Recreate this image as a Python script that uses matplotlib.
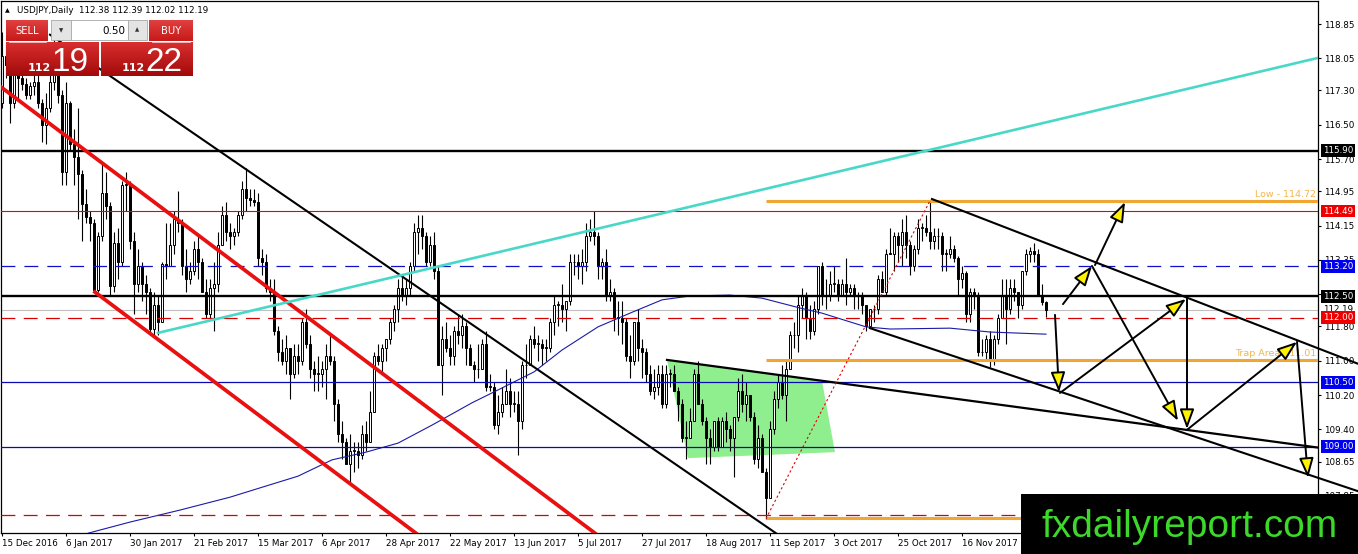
import numpy as np
import matplotlib
matplotlib.use("Agg")
import matplotlib.pyplot as plt
from matplotlib.patches import Rectangle, Polygon
from matplotlib import transforms

plt.rcParams['font.family'] = ['DejaVu Sans']
plt.rcParams['lines.scale_dashes'] = False

# ---------------- data ----------------
symbol_title = "USDJPY,Daily"
title_values = [112.38, 112.39, 112.02, 112.19]
bid_big, ask_big, price_handle = "19", "22", "112"
lot_size = "0.50"

opens = [117.0, 118.1, 117.9, 117.0, 117.9, 117.6, 117.45, 117.2, 117.4, 117.5,
         117.0, 116.5, 116.9, 117.5, 117.7, 117.2, 115.4, 117.0, 116.05, 115.75,
         115.35, 114.65, 114.35, 114.2, 112.65, 113.9, 114.9, 114.6, 112.75, 113.75,
         113.3, 115.1, 115.1, 113.8, 112.8, 113.2, 112.8, 112.6, 111.75, 112.3,
         111.9, 113.25, 113.2, 113.7, 114.3, 114.2, 113.2, 112.9, 113.1, 113.6,
         113.3, 112.6, 112.1, 112.7, 112.8, 113.7, 114.4, 114.0, 113.9, 114.0,
         114.4, 115.0, 114.8, 114.75, 114.7, 113.4, 113.3, 112.7, 112.6, 111.7,
         111.2, 111.0, 111.3, 110.7, 111.1, 111.0, 111.9, 111.4, 110.8, 110.7,
         110.7, 110.8, 111.1, 111.0, 110.0, 109.3, 109.1, 108.6, 108.9, 108.9,
         108.8, 109.3, 109.1, 109.8, 111.1, 111.0, 111.3, 111.5, 111.9, 112.2,
         112.7, 112.5, 112.7, 113.2, 114.0, 114.1, 113.9, 113.3, 113.7, 113.1,
         110.9, 111.5, 111.3, 111.1, 111.7, 111.6, 111.8, 111.3, 110.9, 110.8,
         110.8, 111.4, 110.4, 110.4, 109.5, 109.8, 110.0, 110.3, 110.0, 110.0,
         109.6, 110.9, 110.9, 111.5, 111.4, 111.4, 111.3, 111.3, 111.9, 112.3,
         112.3, 112.2, 112.4, 113.3, 113.3, 113.2, 113.3, 113.9, 114.0, 113.9,
         113.2, 113.3, 112.5, 112.6, 112.0, 112.0, 111.9, 111.1, 111.0, 111.9,
         111.3, 111.2, 110.7, 110.3, 110.4, 110.7, 110.0, 110.7, 110.7, 110.3,
         110.0, 109.2, 109.2, 109.6, 110.7, 110.0, 109.6, 109.2, 109.0, 109.6,
         109.0, 109.6, 109.4, 109.2, 109.7, 110.3, 110.0, 110.2, 109.7, 108.7,
         109.2, 108.4, 107.8, 109.4, 110.1, 110.5, 110.2, 110.8, 111.6, 111.6,
         112.3, 112.5, 112.0, 111.7, 112.2, 113.2, 112.5, 112.5, 112.8, 112.8,
         112.5, 112.8, 112.6, 112.7, 112.5, 112.5, 112.3, 111.8, 112.2, 112.2,
         112.9, 112.6, 113.5, 113.5, 113.9, 113.7, 114.0, 113.7, 113.2, 113.6,
         114.1, 114.1, 114.0, 113.8, 113.9, 113.9, 113.5, 113.5, 113.6, 113.4,
         112.9, 113.05, 112.1, 112.6, 112.5, 111.2, 111.2, 111.5, 111.0, 111.5,
         112.0, 112.5, 112.2, 112.7, 112.6, 112.3, 113.1, 113.5, 113.55, 113.5,
         112.5, 112.38]

highs = [118.66, 118.4, 117.95, 118.25, 118.0, 117.8, 117.6, 117.5, 117.8, 117.8,
         117.1, 117.25, 117.9, 118.6, 118.2, 117.3, 117.5, 117.05, 116.4, 116.9,
         115.45, 115.0, 114.5, 114.3, 114.0, 115.6, 115.4, 114.7, 114.0, 114.1,
         115.2, 115.4, 115.2, 114.0, 113.6, 113.3, 113.0, 112.7, 112.6, 112.5,
         113.3, 114.2, 114.2, 114.5, 114.95, 114.3, 113.6, 113.3, 113.8, 113.9,
         113.4, 112.9, 112.9, 113.3, 114.0, 114.6, 114.7, 114.2, 114.1, 114.5,
         115.2, 115.5, 115.0, 115.0, 114.9, 113.6, 113.5, 112.9, 112.9, 111.8,
         111.5, 111.6, 111.3, 111.4, 111.4, 112.0, 112.2, 111.6, 111.0, 111.1,
         111.0, 111.4, 111.6, 111.1, 110.1, 109.6, 109.2, 109.3, 109.1, 109.1,
         109.5, 109.6, 110.3, 111.2, 111.4, 111.4, 111.5, 112.0, 112.3, 112.9,
         113.0, 112.9, 113.3, 114.2, 114.4, 114.4, 114.0, 113.9, 114.0, 113.2,
         111.8, 111.9, 111.6, 111.8, 112.1, 112.1, 111.9, 111.4, 111.0, 111.4,
         111.5, 111.7, 110.7, 110.5, 110.2, 110.4, 110.8, 110.6, 110.3, 110.3,
         111.0, 111.4, 111.6, 111.8, 111.6, 111.5, 111.5, 112.0, 112.5, 112.4,
         112.8, 112.4, 113.5, 113.5, 113.5, 113.6, 114.2, 114.3, 114.5, 114.0,
         113.4, 113.6, 112.9, 112.7, 112.4, 112.4, 112.0, 111.6, 111.9, 112.2,
         111.5, 111.3, 110.9, 110.8, 110.9, 110.9, 110.9, 110.8, 110.9, 110.4,
         110.1, 109.6, 109.9, 110.8, 111.0, 110.1, 109.7, 109.4, 109.6, 109.7,
         109.7, 109.8, 109.5, 109.7, 110.6, 110.7, 110.5, 110.2, 109.8, 109.5,
         109.3, 108.5, 109.6, 110.3, 110.7, 110.9, 111.0, 111.7, 111.9, 112.5,
         112.7, 112.6, 112.3, 112.4, 113.2, 113.3, 112.9, 113.1, 113.2, 112.9,
         112.9, 113.4, 112.8, 112.8, 112.6, 112.6, 112.3, 112.2, 112.3, 113.0,
         113.1, 113.6, 114.1, 114.0, 114.0, 114.3, 114.4, 113.8, 113.7, 114.3,
         114.2, 114.4, 114.73, 114.1, 114.1, 114.0, 113.6, 113.9, 113.7, 113.45,
         113.2, 113.1, 112.7, 112.7, 112.6, 111.5, 111.6, 111.7, 111.6, 112.1,
         112.9, 112.9, 112.9, 112.9, 112.6, 113.1, 113.6, 113.65, 113.75, 113.6,
         112.8, 112.39]

lows = [116.9, 117.6, 116.55, 116.9, 117.1, 117.3, 117.1, 117.1, 117.2, 116.9,
        116.1, 116.05, 116.8, 117.3, 117.0, 115.1, 115.1, 115.9, 115.1, 114.3,
        113.8, 114.2, 113.8, 112.6, 112.6, 113.8, 114.3, 112.5, 112.6, 112.9,
        113.2, 114.5, 113.6, 112.1, 112.6, 112.4, 112.1, 111.6, 111.6, 111.6,
        111.9, 112.9, 113.2, 113.5, 114.0, 113.0, 112.6, 112.8, 113.0, 112.9,
        112.6, 112.0, 112.0, 111.7, 112.6, 113.7, 113.8, 113.6, 113.7, 113.9,
        114.3, 114.5, 114.6, 114.6, 113.2, 113.0, 112.6, 112.4, 111.6, 111.0,
        110.9, 110.7, 110.1, 110.6, 110.7, 110.9, 111.3, 110.6, 110.3, 110.3,
        110.4, 110.1, 110.9, 109.6, 109.1, 108.7, 108.6, 108.1, 108.4, 108.5,
        108.7, 108.9, 109.1, 109.8, 110.9, 110.7, 111.0, 111.4, 111.7, 111.9,
        112.4, 112.3, 112.5, 113.1, 113.5, 113.6, 113.2, 113.2, 112.9, 110.9,
        110.2, 111.2, 110.9, 110.9, 111.4, 111.3, 110.9, 110.9, 110.5, 110.6,
        110.8, 110.3, 110.3, 109.4, 109.3, 109.7, 110.0, 109.7, 109.8, 108.8,
        109.4, 110.6, 110.9, 111.3, 111.0, 110.9, 111.0, 111.2, 111.6, 111.8,
        111.9, 111.7, 112.3, 113.0, 112.9, 112.8, 113.1, 113.8, 113.7, 112.9,
        112.9, 112.4, 112.4, 111.7, 111.6, 111.4, 111.0, 110.6, 110.9, 111.0,
        110.6, 110.5, 110.2, 110.1, 110.2, 109.9, 109.9, 110.4, 110.3, 109.6,
        109.1, 108.7, 109.2, 109.6, 110.0, 109.5, 108.6, 108.6, 108.9, 108.9,
        109.0, 109.1, 108.9, 108.3, 109.6, 109.8, 109.6, 109.6, 108.6, 108.5,
        108.4, 107.32, 107.8, 109.3, 109.9, 110.1, 109.6, 110.8, 111.3, 111.2,
        112.0, 111.5, 111.5, 111.6, 112.1, 112.3, 112.2, 112.4, 112.6, 112.4,
        112.5, 112.3, 112.5, 112.2, 112.2, 112.1, 111.7, 111.8, 111.9, 112.1,
        112.6, 112.5, 113.5, 113.1, 113.3, 113.2, 113.4, 113.0, 113.1, 113.5,
        113.8, 113.9, 113.6, 113.6, 113.6, 113.1, 113.1, 113.4, 113.3, 112.5,
        112.7, 111.9, 111.9, 112.2, 111.1, 111.1, 111.0, 110.85, 110.9, 111.4,
        112.0, 111.4, 112.1, 112.4, 112.0, 112.2, 113.0, 113.3, 113.3, 112.5,
        112.3, 112.02]

closes = [118.1, 117.9, 117.0, 117.9, 117.6, 117.45, 117.2, 117.4, 117.5, 117.0,
          116.5, 116.9, 117.5, 117.7, 117.2, 115.4, 117.0, 116.05, 115.75, 115.35,
          114.65, 114.35, 114.2, 112.65, 113.9, 114.9, 114.6, 112.75, 113.75, 113.3,
          115.1, 115.1, 113.8, 112.8, 113.2, 112.8, 112.6, 111.75, 112.3, 111.9,
          113.25, 113.2, 113.7, 114.3, 114.2, 113.2, 112.9, 113.1, 113.6, 113.3,
          112.6, 112.1, 112.7, 112.8, 113.7, 114.4, 114.0, 113.9, 114.0, 114.4,
          115.0, 114.8, 114.75, 114.7, 113.4, 113.3, 112.7, 112.6, 111.7, 111.2,
          111.0, 111.3, 110.7, 111.1, 111.0, 111.9, 111.4, 110.8, 110.7, 110.7,
          110.8, 111.1, 111.0, 110.0, 109.3, 109.1, 108.6, 108.9, 108.9, 108.8,
          109.3, 109.1, 109.8, 111.1, 111.0, 111.3, 111.5, 111.9, 112.2, 112.7,
          112.5, 112.7, 113.2, 114.0, 114.1, 113.9, 113.3, 113.7, 113.1, 110.9,
          111.5, 111.3, 111.1, 111.7, 111.6, 111.8, 111.3, 110.9, 110.8, 110.8,
          111.4, 110.4, 110.4, 109.5, 109.8, 110.0, 110.3, 110.0, 110.0, 109.6,
          110.9, 110.9, 111.5, 111.4, 111.4, 111.3, 111.3, 111.9, 112.3, 112.3,
          112.2, 112.4, 113.3, 113.3, 113.2, 113.3, 113.9, 114.0, 113.9, 113.2,
          113.3, 112.5, 112.6, 112.0, 112.0, 111.9, 111.1, 111.0, 111.9, 111.3,
          111.2, 110.7, 110.3, 110.4, 110.7, 110.0, 110.7, 110.7, 110.3, 110.0,
          109.2, 109.2, 109.6, 110.7, 110.0, 109.6, 109.2, 109.0, 109.6, 109.0,
          109.6, 109.4, 109.2, 109.7, 110.3, 110.0, 110.2, 109.7, 108.7, 109.2,
          108.4, 107.8, 109.4, 110.1, 110.5, 110.2, 110.8, 111.6, 111.6, 112.3,
          112.5, 112.0, 111.7, 112.2, 113.2, 112.5, 112.5, 112.8, 112.8, 112.5,
          112.8, 112.6, 112.7, 112.5, 112.5, 112.3, 111.8, 112.2, 112.2, 112.9,
          112.6, 113.5, 113.5, 113.9, 113.7, 114.0, 113.7, 113.2, 113.6, 114.1,
          114.1, 114.0, 113.8, 113.9, 113.9, 113.5, 113.5, 113.6, 113.4, 112.9,
          113.05, 112.1, 112.6, 112.5, 111.2, 111.2, 111.5, 111.0, 111.5, 112.0,
          112.5, 112.2, 112.7, 112.6, 112.3, 113.1, 113.5, 113.55, 113.5, 112.5,
          112.38, 112.19]

date_labels = ["15 Dec 2016", "6 Jan 2017", "30 Jan 2017", "21 Feb 2017",
               "15 Mar 2017", "6 Apr 2017", "28 Apr 2017", "22 May 2017",
               "13 Jun 2017", "5 Jul 2017", "27 Jul 2017", "18 Aug 2017",
               "11 Sep 2017", "3 Oct 2017", "25 Oct 2017", "16 Nov 2017"]
bars_per_label = 16

price_ticks = [118.85, 118.05, 117.30, 116.50, 115.70, 114.95, 114.15, 113.35,
               112.55, 111.80, 111.00, 110.20, 109.40, 108.65, 107.85]

# 200-day moving average, vertices (bar index, price)
ma_idx = [21.5, 32, 44.5, 57, 66, 74, 82.5, 91, 99, 107.5, 117.5, 124, 133, 140,
          149, 157, 165, 172, 182, 190, 199.5, 205, 216, 222, 237, 247, 261]
ma_val = [106.98, 107.24, 107.52, 107.82, 108.08, 108.31, 108.69, 108.87, 109.08,
          109.50, 110.02, 110.32, 110.74, 111.25, 111.79, 112.11, 112.42, 112.51,
          112.53, 112.46, 112.23, 112.11, 111.79, 111.74, 111.76, 111.67, 111.62]

# horizontal levels
black_levels = [115.90, 112.50]
red_level = 114.49
blue_dash_level = 113.20
blue_levels = [110.50, 109.00]
red_dash_levels = [112.00, 107.41]
current_price = 112.19
orange_levels = [114.72, 111.01, 107.33]
orange_start = 191
orange_labels = {114.72: "Low - 114.72", 111.01: "Trap Area 111.01"}

# trend lines (bar index, price) pairs
red_channel_upper = ([-0.25, 148.25], [117.38, 106.98])
red_channel_lower = ([23.25, 103.5], [112.60, 106.98])
black_long_line = ([12, 193.5], [118.60, 106.98])
cyan_line = ([39, 329], [111.65, 118.06])
channel_upper = ([232.5, 339], [114.77, 110.93])
channel_lower = ([217, 339], [111.76, 107.96])
middle_line = ([166.25, 329.5], [111.02, 108.97])
swing_dotted = ([191, 232], [107.32, 114.73])
green_zone_x = [166.25, 205, 208.25, 171.5]
green_zone_y = [111.02, 110.53, 108.87, 108.73]

# forecast arrows: (start idx, start price, end idx, end price)
forecast_arrows = [
    (263.25, 112.07, 264.25, 110.27),
    (264.5, 110.25, 296.0, 112.44),
    (265.25, 112.32, 272.5, 113.21),
    (273.25, 113.23, 280.75, 114.70),
    (272.5, 113.21, 294.0, 109.60),
    (296.25, 112.46, 296.25, 109.41),
    (296.25, 109.39, 323.75, 111.44),
    (323.75, 111.44, 326.5, 108.27),
]

watermark = "fxdailyreport.com"

# ---------------- layout ----------------
W, H = 1358, 554
fig = plt.figure(figsize=(W / 100, H / 100), dpi=100)
fig.patch.set_facecolor("white")

AX_L, AX_R, AX_T, AX_B = 1, 1318, 1, 533
BAR0_PX, BAR_PX = 2, 4
REF_PRICE, REF_Y, PX_PER_YEN = 118.85, 24, 42.9

ax = fig.add_axes([AX_L / W, 1 - AX_B / H, (AX_R - AX_L) / W, (AX_B - AX_T) / H])
ax.set_xlim((AX_L - BAR0_PX) / BAR_PX, (AX_R - BAR0_PX) / BAR_PX)
ax.set_ylim(REF_PRICE - (AX_B - REF_Y) / PX_PER_YEN, REF_PRICE + (REF_Y - AX_T) / PX_PER_YEN)
ax.set_facecolor("white")
for s in ax.spines.values():
    s.set_color("black")
    s.set_linewidth(0.9)

FS = 6.3

# green zone (background object)
ax.add_patch(Polygon(list(zip(green_zone_x, green_zone_y)), closed=True,
                     facecolor="#8FEF8F", edgecolor="none", zorder=0.5))

# candles
o = np.array(opens); h = np.array(highs); l = np.array(lows); c = np.array(closes)
idx = np.arange(len(c))
up = c >= o
ax.vlines(idx, l, h, color="black", lw=0.8, zorder=2)
bb = np.minimum(o, c)
bh = np.maximum(np.abs(c - o), 0.012)
ax.bar(idx[up], bh[up], bottom=bb[up], width=0.6, color="white",
       edgecolor="black", linewidth=0.7, zorder=2.5)
ax.bar(idx[~up], bh[~up], bottom=bb[~up], width=0.6, color="black",
       edgecolor="black", linewidth=0.7, zorder=2.5)

# moving average
ax.plot(ma_idx, ma_val, color="#1a1aa8", lw=0.8, zorder=3)

# horizontal levels
ax.axhline(current_price, color="#c0c0c0", lw=0.8, zorder=1.5)
for lv in black_levels:
    ax.axhline(lv, color="black", lw=1.7, zorder=3.2)
ax.axhline(red_level, color="#ee0000", lw=0.8, zorder=3.2)
ax.axhline(blue_dash_level, color="#1010c8", lw=0.9, dashes=(10, 6.5), zorder=3.2)
for lv in blue_levels:
    ax.axhline(lv, color="#0a0ab4", lw=0.9, zorder=3.2)
for lv in red_dash_levels:
    ax.axhline(lv, color="#d80000", lw=0.9, dashes=(10, 6), zorder=3.2)
xr = ax.get_xlim()[1]
for lv in orange_levels:
    ax.plot([orange_start, xr], [lv, lv], color="#f0a632", lw=2.2,
            solid_capstyle="butt", zorder=3.3)
for lv, txt in orange_labels.items():
    ax.text(xr - 0.5, lv + 0.06, txt, ha="right", va="bottom", fontsize=6.8,
            color="#f5b54c", zorder=3.4)

# trend lines
ax.plot(*red_channel_upper, color="#e81010", lw=2.7, zorder=4)
ax.plot(*red_channel_lower, color="#e81010", lw=2.7, zorder=4)
ax.plot(*black_long_line, color="black", lw=1.5, zorder=4)
ax.plot(*cyan_line, color="#48d8c8", lw=1.9, zorder=4)
ax.plot(*middle_line, color="black", lw=1.6, zorder=4)
ax.plot(*channel_upper, color="black", lw=1.5, zorder=4, clip_on=False)
ax.plot(*channel_lower, color="black", lw=1.5, zorder=4, clip_on=False)
ax.plot(*swing_dotted, color="#e00000", lw=0.8, dashes=(1.6, 1.8), zorder=4)

# forecast arrows
for x0, y0, x1, y1 in forecast_arrows:
    ax.annotate("", xy=(x1, y1), xytext=(x0, y0), annotation_clip=False,
                arrowprops=dict(arrowstyle="-|>,head_length=0.55,head_width=0.2",
                                fc="#fff200", ec="black", lw=1.4,
                                shrinkA=0, shrinkB=0, mutation_scale=22),
                zorder=5)

# axes ticks
ax.yaxis.tick_right()
ax.set_yticks(price_ticks)
ax.set_yticklabels([f"{v:.2f}" for v in price_ticks])
ax.set_xticks([k * bars_per_label for k in range(len(date_labels))])
ax.set_xticklabels(date_labels, ha="left")
ax.tick_params(axis="y", which="both", right=True, left=False, labelright=True,
               labelleft=False, length=2.5, width=0.8, pad=2.2, labelsize=FS,
               colors="black")
ax.tick_params(axis="x", length=2.5, width=0.8, pad=2.0, labelsize=FS, colors="black")

# price labels on the scale
lab_tr = transforms.blended_transform_factory(ax.transAxes, ax.transData)
lab_x = (1323 - AX_L) / (AX_R - AX_L)
price_boxes = [(current_price, "white", "black"), (115.90, "black", "white"),
               (114.49, "#ee0000", "white"), (113.20, "#0000f0", "white"),
               (112.50, "black", "white"), (112.00, "#ee0000", "white"),
               (110.50, "#0000f0", "white"), (109.00, "#0000f0", "white")]
for k, (lv, bg, fg) in enumerate(price_boxes):
    ax.text(lab_x, lv, f"{lv:.2f}", transform=lab_tr, ha="left", va="center",
            fontsize=FS, color=fg, clip_on=False, zorder=6 + k * 0.01,
            bbox=dict(boxstyle="square,pad=0.22", fc=bg, ec="none"))

# ---------------- overlay (pixel coordinates) ----------------
ov = fig.add_axes([0, 0, 1, 1], zorder=10)
ov.set_xlim(0, W)
ov.set_ylim(H, 0)
ov.axis("off")


def grad_box(x0, y0, x1, y1, top, bot, z=1):
    t = np.linspace(0, 1, 64).reshape(-1, 1, 1)
    img = np.array(top).reshape(1, 1, 3) * (1 - t) + np.array(bot).reshape(1, 1, 3) * t
    img = np.repeat(img, 2, axis=1)
    ov.imshow(img, extent=(x0, x1, y1, y0), aspect="auto", interpolation="bilinear",
              zorder=z)


# header text
ov.text(5, 10.5, "\u25B2", fontsize=4.5, va="center", ha="left", color="black")
ov.text(17, 10.5, symbol_title + "  " + " ".join(f"{v:.2f}" for v in title_values),
        fontsize=6.3, va="center", ha="left", color="black")

# trade panel
grad_box(6, 20, 48, 41, (0.88, 0.25, 0.25), (0.78, 0.10, 0.10))
grad_box(149, 20, 193, 41, (0.88, 0.25, 0.25), (0.78, 0.10, 0.10))
ov.add_patch(Rectangle((51, 20), 20, 20, fc="#e4e4e4", ec="#a8a8a8", lw=0.6, zorder=2))
ov.add_patch(Rectangle((71, 20), 57, 20, fc="white", ec="#a8a8a8", lw=0.6, zorder=2))
ov.add_patch(Rectangle((128, 20), 19, 20, fc="#e4e4e4", ec="#a8a8a8", lw=0.6, zorder=2))
ov.text(61, 30.5, "\u25BC", fontsize=4, ha="center", va="center", color="#333333", zorder=3)
ov.text(137.5, 30, "\u25B2", fontsize=4, ha="center", va="center", color="#333333", zorder=3)
ov.text(125, 30.5, lot_size, fontsize=7.5, ha="right", va="center", color="black", zorder=3)
ov.text(27, 30.5, "SELL", fontsize=7.2, ha="center", va="center", color="white", zorder=3)
ov.text(171, 30.5, "BUY", fontsize=7.2, ha="center", va="center", color="white", zorder=3)
ov.plot([9, 46], [41.5, 41.5], color="#f0d0d0", lw=0.6, zorder=3)
ov.plot([152, 190], [41.5, 41.5], color="#f0d0d0", lw=0.6, zorder=3)
grad_box(6, 42, 99, 76, (0.85, 0.18, 0.18), (0.64, 0.04, 0.04))
grad_box(101, 42, 193, 76, (0.85, 0.18, 0.18), (0.64, 0.04, 0.04))
ov.text(39, 71, price_handle, fontsize=8, fontweight="bold", ha="center",
        va="baseline", color="white", zorder=3)
ov.text(70, 71, bid_big, fontsize=24, ha="center", va="baseline", color="white",
        family=["Liberation Sans", "DejaVu Sans"], zorder=3)
ov.text(133, 71, price_handle, fontsize=8, fontweight="bold", ha="center",
        va="baseline", color="white", zorder=3)
ov.text(164, 71, ask_big, fontsize=24, ha="center", va="baseline", color="white",
        family=["Liberation Sans", "DejaVu Sans"], zorder=3)

# watermark box
ov.add_patch(Rectangle((1021, 494), W - 1021, H - 494, fc="black", ec="none", zorder=5))
ov.text(1190, 537, watermark, fontsize=28, ha="center", va="baseline",
        color="#3cd82a", family=["Liberation Sans", "DejaVu Sans"], zorder=6)

ov.set_xlim(0, W)
ov.set_ylim(H, 0)

fig.savefig("out.png", dpi=100)
